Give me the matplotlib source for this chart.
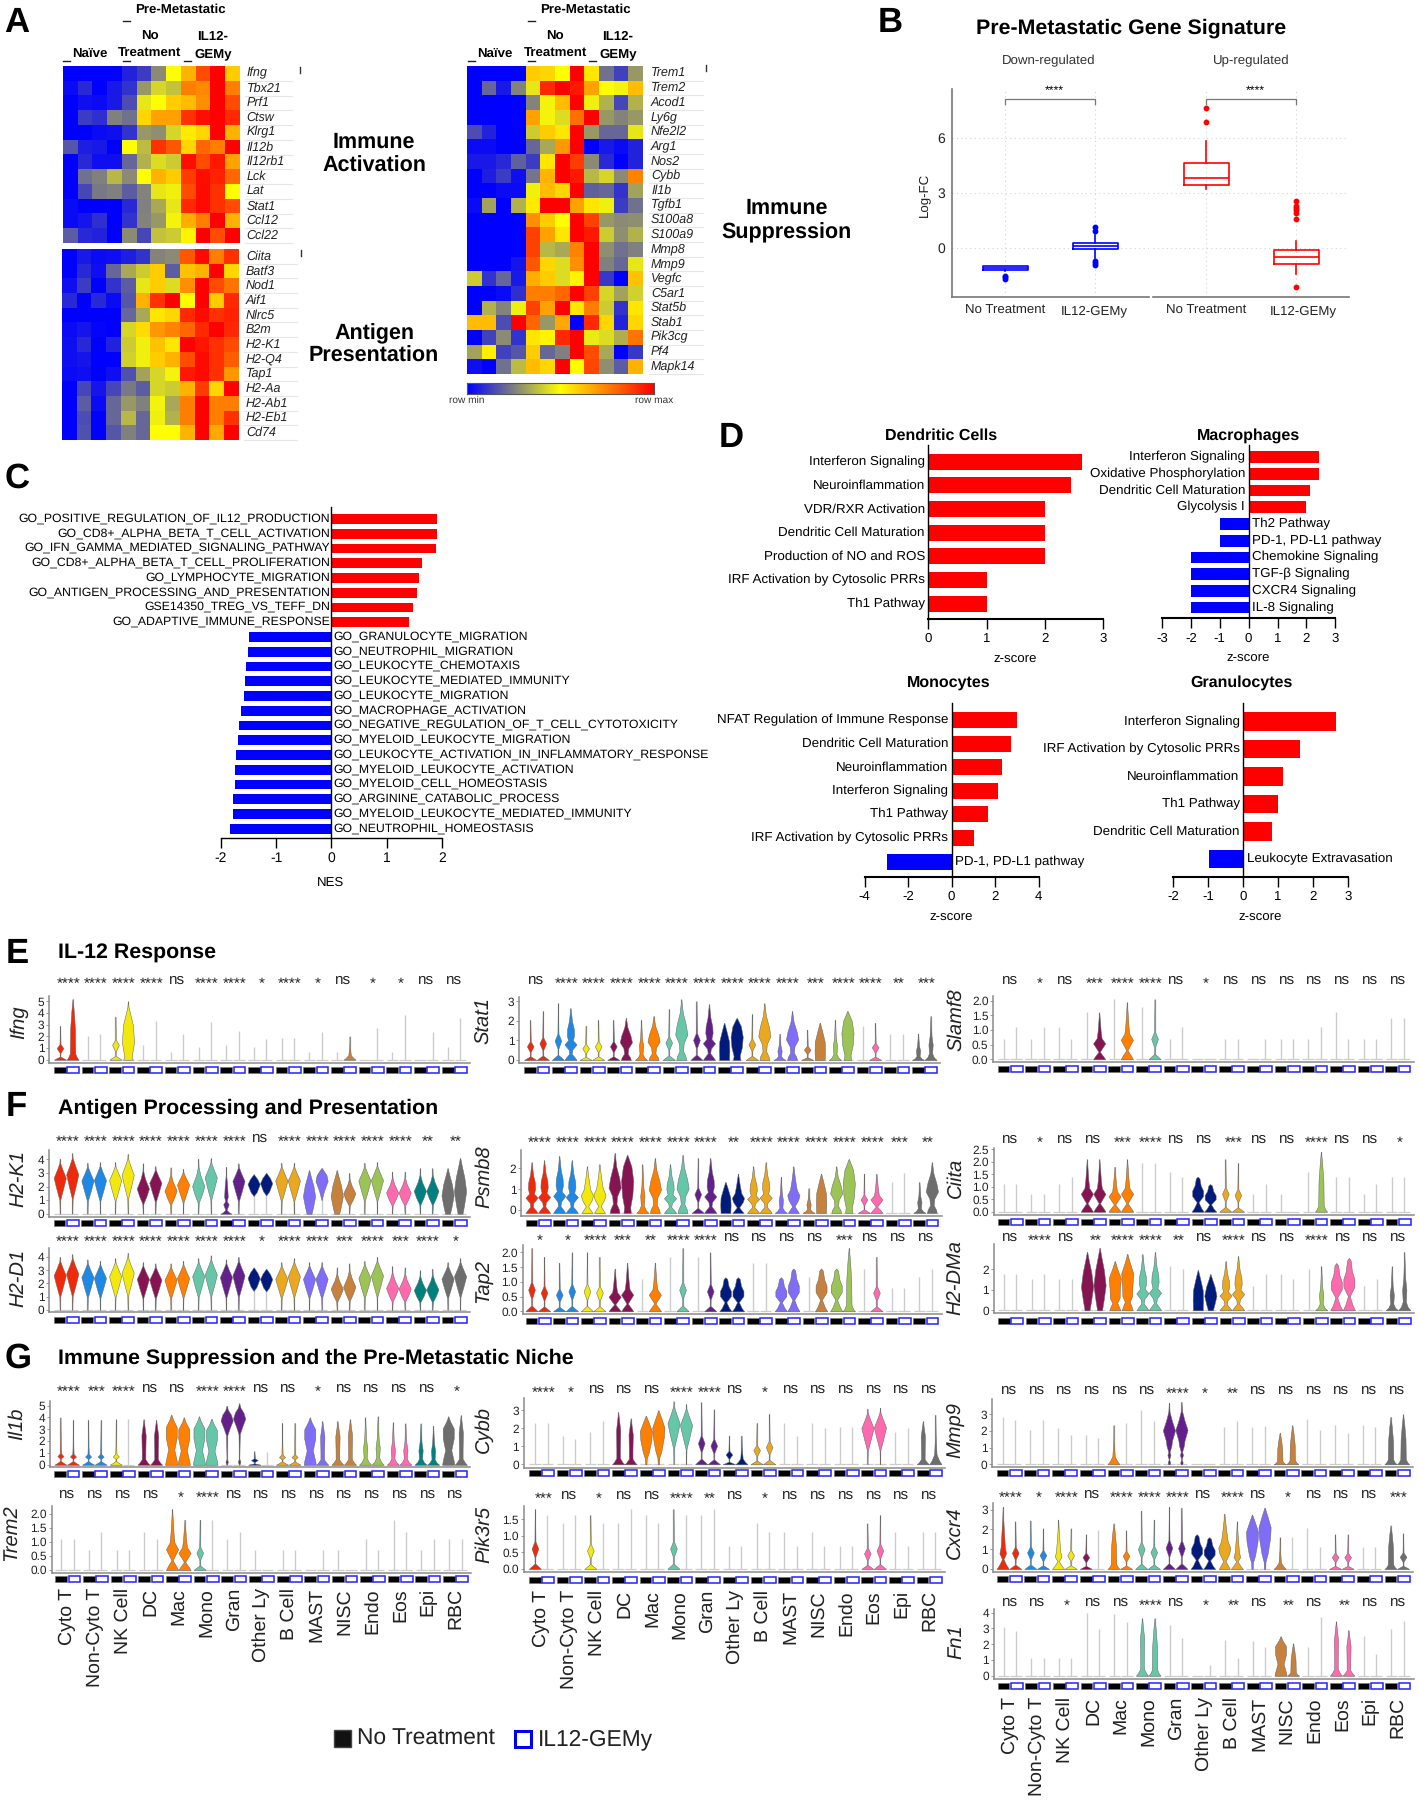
import numpy as np
import matplotlib
matplotlib.use("Agg")
import matplotlib.pyplot as plt
from matplotlib.colors import LinearSegmentedColormap
from matplotlib.patches import Rectangle

plt.rcParams['font.family'] = ['Liberation Sans', 'DejaVu Sans']
plt.rcParams['text.hinting'] = 'no_hinting'

W, H = 1419, 1800

# ---- panel A heatmaps, rows are genes, 0 = row min, 1 = row max
act_genes = ["Ifng", "Tbx21", "Prf1", "Ctsw", "Klrg1", "Il12b", "Il12rb1", "Lck", "Lat", "Stat1", "Ccl12", "Ccl22"]
act_vals = [
    [0, 0, 0, 0, .07, .12, .27, .5, .65, .85, 1, .6],
    [.02, .08, 0, .05, .1, .3, .42, .38, .75, .73, 1, .75],
    [0, .03, .02, .05, .15, .45, .5, .6, .63, .72, 1, .85],
    [0, .12, .09, .25, .22, .58, .68, .68, .9, .97, 1, .92],
    [0, 0, .02, .03, .1, .3, .28, .42, .54, .58, 1, .65],
    [.17, .06, .05, 0, .5, .37, .9, .83, .58, .8, .75, 1],
    [0, .08, .03, .03, .2, .35, .43, .4, .97, .85, .95, .68],
    [0, .22, .25, .36, .27, .5, .65, .6, .88, .97, .93, .8],
    [0, .14, .24, .25, .18, .26, .45, .47, .85, .98, .9, .5],
    [.02, 0, 0, 0, .08, .25, .33, .45, .92, .98, .9, .85],
    [.02, .04, .09, 0, .1, .26, .3, .48, .66, .75, 1, .65],
    [.18, .08, .07, 0, .27, .14, .38, .4, .52, 1, .85, 1],
]
ag_genes = ["Ciita", "Batf3", "Nod1", "Aif1", "Nlrc5", "B2m", "H2-K1", "H2-Q4", "Tap1", "H2-Aa", "H2-Ab1", "H2-Eb1", "Cd74"]
ag_vals = [
    [0, .05, .02, .03, .06, .1, .26, .27, .83, .98, .75, .9],
    [0, .08, .03, .2, .33, .4, .6, .18, .62, .65, 1, .58],
    [.03, .12, 0, .1, .18, .45, .6, .43, .72, 1, .85, .77],
    [.08, 0, .08, .02, .17, .65, .9, 1, .5, 1, .6, .92],
    [0, 0, 0, 0, .2, .33, .55, .58, .92, .98, .9, .93],
    [.02, .04, .01, 0, .42, .57, .7, .74, .8, .92, 1, .92],
    [.03, .08, 0, .07, .4, .47, .62, .55, 1, .96, .9, .85],
    [.03, .04, 0, 0, .41, .47, .6, .65, .85, .98, .9, .82],
    [.02, .03, 0, .03, .16, .32, .42, .48, .95, .98, .9, .7],
    [0, .14, .04, .14, .24, .18, .42, .4, .65, .88, .58, 1],
    [0, .18, .02, .2, .3, .25, .48, .33, .75, 1, .75, .75],
    [0, .15, 0, .2, .36, .2, .47, .35, .75, 1, .75, .9],
    [0, .16, 0, .17, .25, .2, .5, .5, .65, 1, .67, 1],
]
sup_genes = ["Trem1", "Trem2", "Acod1", "Ly6g", "Nfe2l2", "Arg1", "Nos2", "Cybb", "Il1b", "Tgfb1", "S100a8", "S100a9",
             "Mmp8", "Mmp9", "Vegfc", "C5ar1", "Stat5b", "Stab1", "Pik3cg", "Pf4", "Mapk14"]
sup_vals = [
    [0, 0, 0, 0, .6, .58, .5, 1, .55, .22, .13, .3],
    [0, .2, .05, .26, .45, .92, 1, .95, .68, .5, .48, .63],
    [0, 0, 0, 0, .26, .48, .63, 1, .47, .35, .14, .35],
    [0, 0, 0, 0, .68, .48, .43, .78, 1, .3, .26, .3],
    [.15, .07, 0, 0, .4, .6, .55, 1, .3, .2, .2, .45],
    [.02, .02, 0, 0, .2, .33, .7, 1, 0, .05, .02, .07],
    [.05, .05, .08, .19, .12, .55, 1, .88, .27, .08, 0, .07],
    [0, .06, .12, .03, .23, .65, 1, .95, .36, .42, .27, .74],
    [0, 0, .02, .02, .47, .63, .58, 1, .19, .2, .1, .32],
    [.02, .32, 0, .35, .54, 1, 1, .68, .55, .47, .12, .22],
    [0, 0, 0, 0, .72, .6, .5, 1, .87, .3, .27, .28],
    [0, 0, 0, 0, .87, .68, .55, 1, .95, .4, .28, .35],
    [0, 0, 0, 0, .87, .36, .33, .74, 1, .28, .22, .25],
    [0, 0, 0, .04, .83, .58, .43, .72, 1, .25, .2, .45],
    [.4, .1, .2, .05, .66, .6, .43, .52, 1, .11, 0, .62],
    [0, 0, .02, .09, .75, .75, .8, 1, .87, .42, .32, .41],
    [0, .35, .26, .47, .87, .68, 1, .55, .75, .4, .1, .55],
    [.63, .63, .15, 1, .8, .3, .67, 0, .92, .58, .07, .58],
    [0, .13, .27, .1, .55, .52, .92, 1, .46, .43, .34, .77],
    [.32, .53, .13, .17, .6, .2, .25, 1, .85, .33, 0, .11],
    [.03, 0, .22, .37, .63, .58, 1, .5, .86, .28, .18, .65],
]

# ---- panel B box stats
box_down_nt = dict(med=-1.1, q1=-1.2, q3=-1.0, whislo=-1.25, whishi=-1.0, fliers=[-1.55, -1.62, -1.7])
box_down_il = dict(med=.08, q1=-.09, q3=.27, whislo=-.57, whishi=.69, fliers=[1.15, .9, -.73, -.85, -.95])
box_up_nt = dict(med=3.78, q1=3.4, q3=4.62, whislo=3.2, whishi=5.84, fliers=[7.6, 6.86])
box_up_il = dict(med=-.49, q1=-.87, q3=-.15, whislo=-1.43, whishi=.35, fliers=[2.56, 2.25, 2.15, 2.05, 1.9, 1.57, -2.15])

# ---- panel C
nes_up_names = ["GO_POSITIVE_REGULATION_OF_IL12_PRODUCTION", "GO_CD8+_ALPHA_BETA_T_CELL_ACTIVATION",
                "GO_IFN_GAMMA_MEDIATED_SIGNALING_PATHWAY", "GO_CD8+_ALPHA_BETA_T_CELL_PROLIFERATION",
                "GO_LYMPHOCYTE_MIGRATION", "GO_ANTIGEN_PROCESSING_AND_PRESENTATION",
                "GSE14350_TREG_VS_TEFF_DN", "GO_ADAPTIVE_IMMUNE_RESPONSE"]
nes_up = [1.91, 1.90, 1.885, 1.63, 1.59, 1.545, 1.48, 1.40]
nes_down_names = ["GO_GRANULOCYTE_MIGRATION", "GO_NEUTROPHIL_MIGRATION", "GO_LEUKOCYTE_CHEMOTAXIS",
                  "GO_LEUKOCYTE_MEDIATED_IMMUNITY", "GO_LEUKOCYTE_MIGRATION", "GO_MACROPHAGE_ACTIVATION",
                  "GO_NEGATIVE_REGULATION_OF_T_CELL_CYTOTOXICITY", "GO_MYELOID_LEUKOCYTE_MIGRATION",
                  "GO_LEUKOCYTE_ACTIVATION_IN_INFLAMMATORY_RESPONSE", "GO_MYELOID_LEUKOCYTE_ACTIVATION",
                  "GO_MYELOID_CELL_HOMEOSTASIS", "GO_ARGININE_CATABOLIC_PROCESS",
                  "GO_MYELOID_LEUKOCYTE_MEDIATED_IMMUNITY", "GO_NEUTROPHIL_HOMEOSTASIS"]
nes_down = [-1.485, -1.50, -1.545, -1.57, -1.58, -1.63, -1.68, -1.685, -1.73, -1.745, -1.75, -1.775, -1.785, -1.825]

# ---- panel D
dc_names = ["Interferon Signaling", "Neuroinflammation", "VDR/RXR Activation", "Dendritic Cell Maturation",
            "Production of NO and ROS", "IRF Activation by Cytosolic PRRs", "Th1 Pathway"]
dc_z = [2.64, 2.45, 2, 2, 2, 1, 1]
mac_names = ["Interferon Signaling", "Oxidative Phosphorylation", "Dendritic Cell Maturation", "Glycolysis I",
             "Th2 Pathway", "PD-1, PD-L1 pathway", "Chemokine Signaling", "TGF-β Signaling", "CXCR4 Signaling",
             "IL-8 Signaling"]
mac_z = [2.44, 2.44, 2.11, 2.0, -1, -1, -2, -2, -2, -2]
mono_names = ["NFAT Regulation of Immune Response", "Dendritic Cell Maturation", "Neuroinflammation",
              "Interferon Signaling", "Th1 Pathway", "IRF Activation by Cytosolic PRRs", "PD-1, PD-L1 pathway"]
mono_z = [3.0, 2.72, 2.32, 2.13, 1.67, 1.01, -2.97]
gran_names = ["Interferon Signaling", "IRF Activation by Cytosolic PRRs", "Neuroinflammation", "Th1 Pathway",
              "Dendritic Cell Maturation", "Leukocyte Extravasation"]
gran_z = [2.66, 1.63, 1.13, 1.01, .82, -.99]

# ---- violins
cells = ["Cyto T", "Non-Cyto T", "NK Cell", "DC", "Mac", "Mono", "Gran", "Other Ly", "B Cell", "MAST", "NISC", "Endo",
         "Eos", "Epi", "RBC"]
cell_colors = ["#EE2A0B", "#1E88E5", "#F2E80C", "#861452", "#FF7F00", "#66C7A8", "#63208A", "#001B7C", "#E9A820",
               "#7F6CF7", "#C6813D", "#9BC356", "#FF69AE", "#00817F", "#6E6E6E"]

# violin outlines as (fraction of top, relative half width)
shapes = {
    'b': [(0, 1), (.03, .7), (.09, .05), (.2, .06), (.34, .55), (.46, .08), (.7, .05), (1, .01)],
    'z': [(0, 1), (.03, .6), (.08, .05), (.13, .05), (.18, .5), (.24, .1), (.4, .06), (1, .01)],
    'n': [(0, 1), (.04, .7), (.1, .45), (.5, .4), (.8, .2), (1, .01)],
    'u': [(0, .8), (.05, .6), (.3, 1), (.6, .8), (.9, .1), (1, .01)],
    'e': [(0, 1), (.08, .6), (.2, .2), (.4, .12), (.6, .05), (1, .01)],
    'c': [(0, 1), (.04, .7), (.12, .3), (.3, .3), (.65, .35), (.85, .15), (1, .01)],
    'W': [(0, 1), (.08, .9), (.3, .5), (.55, .9), (.75, .9), (.9, .3), (1, .01)],
    'd': [(0, .01), (.25, .06), (.45, .55), (.65, 1), (.8, .45), (.92, .06), (1, .01)],
    'm': [(0, .01), (.2, .08), (.35, .6), (.5, 1), (.7, .35), (.85, .05), (1, .01)],
    'l': [(0, .4), (.15, .65), (.4, 1), (.65, .7), (.85, .3), (1, .02)],
    'k': [(0, 1), (.05, .7), (.12, .2), (.2, .3), (.3, 1), (.38, .4), (.48, .6), (.6, .55), (.75, .25), (1, .01)],
    'o': [(0, .8), (.06, .7), (.15, .3), (.28, .4), (.42, 1), (.58, .75), (.78, .25), (1, .01)],
    'q': [(0, .8), (.25, .85), (.5, .8), (.8, .35), (1, .02)],
    'Q': [(0, .6), (.1, .5), (.3, .85), (.55, 1), (.8, .7), (.95, .2), (1, .02)],
    'j': [(0, 1), (.06, .55), (.15, .25), (.35, .35), (.55, .15), (1, .01)],
    'r': [(0, 1), (.06, .7), (.16, .1), (.34, 1), (.45, .4), (.6, .25), (1, .01)],
    'g': [(0, .9), (.03, .5), (.08, .1), (.2, .45), (.27, .12), (.36, .3), (.6, .2), (.8, .05), (1, .01)],
    'a': [(.45, .01), (.55, .5), (.75, 1), (.88, .6), (1, .02)],
    'h': [(.3, .01), (.5, .4), (.72, 1), (.85, .8), (1, .05)],
    'v': [(0, .9), (.06, .6), (.14, .2), (.28, .8), (.38, 1), (.5, .55), (.7, .3), (1, .01)],
    'x': [(0, 1), (.1, .6), (.27, .15), (.45, .9), (.6, .9), (.75, .5), (.95, .3), (1, .02)],
    'y': [(0, 1), (.08, .5), (.16, .12), (.25, .55), (.35, .35), (.6, .2), (.8, .08), (1, .01)],
    'L': [(0, .9), (.07, .7), (.15, .4), (.25, .8), (.45, .85), (.65, 1), (.85, .4), (1, .02)],
    'M': [(0, .1), (.12, .15), (.25, .5), (.5, .9), (.68, 1), (.85, .5), (1, .02)],
    'G': [(0, .04), (.05, .2), (.1, .02), (.5, .1), (.62, .5), (.75, 1), (.85, .7), (.93, .2), (1, .02)],
    'H': [(0, .12), (.03, .2), (.08, .02), (.15, .25), (.2, .1), (.3, .4), (.38, .5), (.55, 1), (.7, .5), (.85, .1), (1, .01)],
}

ifng_top = [2.9, 5.2, 2.0, 2.2, 3.7, 5, 1.3, 3.3, .7, 2.2, 1.05, 3.2, 1.3, 2.5, 1.1, 1.8, 1.9, 1.9, .7, 2.4, .7, 2.0, 0, 2.7, .7, 3.8, 0, 2.4, 1.1, 3.6]
ifng_shape = "bn ss bu ss ss ss ss ss ss ss se ss ss ss ss"
ifng_sig = "**** **** **** **** ns **** **** * **** * ns * * ns ns"

stat1_top = [2.05, 2.5, 2.9, 2.65, 1.75, 2.05, 2.05, 2.15, 2.05, 2.25, 2.6, 3.1, 3, 2.85, 1.9, 2.15, 2.35, 2.9, 1.35, 2.5, 1.55, 1.9, 2.05, 2.5, 1.75, 1.9, 1.35, 1.35, 1.35, 2.25]
stat1_shape = "bb bk bb bo jo bo bk qQ bo jo bq jQ sb ss jj"
stat1_sig = "ns **** **** **** **** **** **** **** **** **** *** **** **** ** ***"

slamf8_top = [.7, 1.1, .7, 1.1, 1.1, .7, 1.6, 1.6, 2.05, 1.95, 1.8, 2.05, .7, 1.1, 0, 0, .7, .7, 0, .7, .7, .7, .7, 1.1, 1.6, .7, .7, .7, 1.4, 1.4]
slamf8_shape = "ss ss ss sr sr sb ss ss ss ss ss ss ss ss ss"
slamf8_sig = "ns * ns *** **** **** ns * ns ns ns ns ns ns ns"

h2k1_top = [4.05, 4.45, 3.75, 3.8, 3.8, 4.4, 3.7, 3.5, 3.4, 3.3, 4.05, 4.1, 3.45, 3.7, 2.9, 3.0, 3.75, 3.75, 3.2, 3.35, 3.2, 3.0, 3.75, 3.8, 3.1, 3.1, 3.35, 3.35, 3.35, 4.1]
h2k1_shape = "dd dd dd md md md gd aa dd lh lm dd mm mm ll"
h2k1_sig = "**** **** **** **** **** **** **** ns **** **** **** **** **** ** **"

psmb8_top = [2.3, 2.4, 2.6, 2.4, 2.1, 2.2, 2.75, 2.65, 2.2, 2.5, 2.2, 2.65, 2.5, 2.5, 1.35, 1.75, 2.1, 2.3, 1.6, 2.1, 1.05, 1.75, 2.1, 2.45, 1.75, 1.75, 1.35, 1.8, 1.35, 2.3]
psmb8_shape = "kk kk vv oQ jo ko bk qv kk jv jq oQ br ss jo"
psmb8_sig = "**** **** **** **** **** **** **** ** **** **** **** **** **** *** **"

ciita_top = [1.1, 1.1, .7, .7, 1.1, 1.4, 2.1, 2.1, 1.8, 2.1, 1.95, 1.95, 1.6, 1.4, 1.4, 1.1, 2.1, 1.95, .7, 1.1, .7, 0, 1.6, 2.4, 1.4, 1.4, .7, 1.1, 1.4, 1.4]
ciita_shape = "ss ss ss rr rr ss ss xx bb ss ss sn ss ss ss"
ciita_sig = "ns * ns ns *** **** ns ns *** ns ns **** ns ns *"

h2d1_top = [4.0, 4.2, 3.8, 3.7, 3.9, 4.3, 3.6, 3.5, 3.5, 3.7, 3.9, 4.1, 3.8, 4.0, 3.2, 3.1, 3.6, 3.9, 3.6, 3.6, 3.2, 3.5, 3.7, 4.0, 3.3, 3.2, 3.0, 3.1, 3.6, 3.9]
h2d1_shape = "dd dd dd dd dd dd dd aa dd dd mm dd mm mm dd"
h2d1_sig = "**** **** **** **** **** **** **** * **** **** *** **** *** **** *"

tap2_top = [2.15, 1.85, 1.65, 2.0, 2, 1.85, 1.45, 1.65, 1.1, 1.65, 1.85, 2.15, 1.85, 2, 1.15, 1.15, 1.65, 1.65, 1.15, 1.45, 1.15, 1.45, 1.45, 2.15, 1.45, 1.85, .8, .8, 1.15, 1.45]
tap2_shape = "bb bb bb rr sr sb sb xx ss xx sx xn sb ss ss"
tap2_sig = "* * **** *** ** **** **** ns ns ns ns *** ns ns ns"

h2dma_top = [1.77, 1.77, 1.55, 1.77, 1.55, 1.55, 2.85, 3.05, 2.4, 2.75, 2.75, 2.85, 2.15, 2.0, 1.97, 1.77, 2.4, 2.65, 1.2, 1.77, 1.77, 1.55, 2.0, 2.15, 2.3, 2.55, 1.2, 1.55, 2.15, 2.85]
h2dma_shape = "ss ss ss ll LL kk ss ql kk ss ss sj xx ss jj"
h2dma_sig = "ns **** ns ** **** **** ** ns **** ns ns **** ns ns ns"

il1b_top = [4, 3.8, 3.8, 3.8, 3.85, 3.9, 3.85, 3.8, 4.25, 4, 4.1, 3.9, 5, 5.2, 1.15, 1.1, 3.55, 3.55, 4, 3.7, 3.7, 3.85, 4, 4.1, 3.6, 3.5, 3.5, 3.3, 4.1, 4.2]
il1b_shape = "zz zz zs cc WW WW GG bs zz Wc cc jj jj jj Wc"
il1b_sig = "**** *** **** ns ns **** **** ns ns * ns ns ns ns *"

cybb_top = [2.3, 2.3, 1.6, 1.4, 1.8, 2.4, 2.9, 2.55, 2.7, 3.0, 3.5, 3.35, 3.45, 3.05, 1.6, 1.6, 2.3, 2.8, 2.3, 1.6, 2.3, 2.0, 2.1, 2.1, 3.1, 3.15, 1.8, 2.0, 2.4, 2.75]
cybb_shape = "ss ss ss cc MM dd bb be bb ss ss ss dd ss ce"
cybb_sig = "**** * ns ns ns **** **** ns * ns ns ns ns ns ns"

mmp9_top = [2.85, 2.65, 2.05, 2.65, 2.15, 1.75, 1.75, 1.55, 2.35, 2.45, 3.25, 2.6, 3.7, 3.75, 0, 0, 2.25, 2.6, 2.25, 2.3, 1.9, 2.35, 2.7, 2.05, 2.35, 1.9, 2.35, 2.25, 2.85, 3.0]
mmp9_shape = "ss ss ss ss es ss HH ss ss ss nn ss ss ss nn"
mmp9_sig = "ns ns ns ns ns ns **** * ** ns ns ns ns ns ns"

trem2_top = [1.1, 1.1, .7, 1.37, .7, .7, 1.37, 1.1, 2.18, 1.8, 1.8, 1.8, 1.1, 1.37, .7, 0, .7, .7, 0, .7, .7, 0, 1.1, .7, 1.8, 1.37, .7, 1.1, 1.1, 1.1]
trem2_shape = "ss ss ss ss rr bs ss ss ss ss ss ss ss ss ss"
trem2_sig = "ns ns ns ns * **** ns ns ns ns ns ns ns ns ns"

pik3r5_top = [1.8, 1.62, 1.37, 1.62, 1.62, 1.37, 1.37, 1.8, 1.62, 1.37, 1.8, 1.62, 1.62, 1.8, .7, .7, 1.37, 1.1, 1.1, .7, 1.1, .7, .7, .7, 1.37, 1.62, 1.1, .7, 1.1, 1.1]
pik3r5_shape = "bs ss bs ss ss bs ss ss ss ss ss ss bb ss ss"
pik3r5_sig = "*** ns * ns ns **** ** ns * ns ns ns ns ns ns"

cxcr4_top = [3.15, 2.4, 2.45, 2.05, 2.5, 2.05, 1.75, 1.95, 2.3, 1.95, 2.95, 2.5, 3.15, 3.1, 1.75, 1.6, 2.8, 2.4, 2.75, 3.1, 1.6, 1.6, 2.05, 1.1, 1.75, 1.75, 1.1, 1.1, 2.2, 1.8]
cxcr4_shape = "yb bb yb bs nb bb bb xx vy MM es ss bb ss nb"
cxcr4_sig = "**** * **** ns **** **** **** ns **** ns * ns ns ns ***"

fn1_top = [3.1, 2.85, 1.1, 1.1, 1.1, 1.1, 4.0, 2.95, 3.9, 3.4, 3.65, 3.65, 3.25, 2.4, 0, .7, 2.25, 1.1, 2.2, 1.8, 2.5, 2.05, 1.8, 3.7, 3.45, 2.9, 2.5, 1.4, 2.95, 3.5]
fn1_shape = "ss ss ss ss ss cn ss ss ss ss Wn ss cc ss ss"
fn1_sig = "ns ns * ns ns **** ns * ** ns ** ns ** ns ns"

fig = plt.figure(figsize=(W / 100, H / 100), dpi=100)
fig.patch.set_facecolor('white')
ov = fig.add_axes([0, 0, 1, 1], zorder=10)
ov.set_xlim(0, W)
ov.set_ylim(H, 0)
ov.axis('off')


def txt(x, y, s, size, ha='center', va='center', **kw):
    return ov.text(x, y, s, fontsize=size, ha=ha, va=va, **kw)


def axpx(l, t, r, b, **kw):
    return fig.add_axes([l / W, 1 - b / H, (r - l) / W, (b - t) / H], **kw)


# panel letters and headings
for s, x, y in [("A", 17, 23), ("B", 890, 23), ("C", 17, 479), ("D", 731, 438), ("E", 17, 954), ("F", 16, 1107), ("G", 18, 1359)]:
    txt(x, y, s, 25, fontweight='bold')
for s, y in [("IL-12 Response", 953), ("Antigen Processing and Presentation", 1108),
             ("Immune Suppression and the Pre-Metastatic Niche", 1358.5)]:
    txt(57.5, y, s, 15.4, ha='left', fontweight='bold')

# ---- A
hm_cmap = LinearSegmentedColormap.from_list("hm", ["#0000ff", "#ffff00", "#ff0000"])


def heat(vals, genes, l, t, r, b, lab_x, line_r):
    ax = axpx(l, t, r, b)
    ax.imshow(np.array(vals), cmap=hm_cmap, vmin=0, vmax=1, aspect='auto', interpolation='nearest')
    ax.axis('off')
    rh = (b - t) / len(genes)
    for i, g in enumerate(genes):
        txt(lab_x, t + rh * (i + .5), g, 9, ha='left', style='italic', color='#222222')
        ov.plot([lab_x - 2, line_r], [t + rh * (i + 1)] * 2, color='#e6e6e6', lw=.8)


heat(act_vals, act_genes, 62.7, 66, 239, 243, 246.7, 292)
heat(ag_vals, ag_genes, 62.3, 249, 239, 440, 246, 297)
heat(sup_vals, sup_genes, 467, 66, 643, 374, 651, 703)

for dx in (0, 405):
    txt(180 + dx, 9.5, "Pre-Metastatic", 9.5, fontweight='bold')
    txt(150 + dx, 37, "No", 9.5, fontweight='bold')
    txt(150 + dx, 53.5, "Treatment", 9.5, fontweight='bold')
    txt(90 + dx, 53.5, "Naïve", 9.5, fontweight='bold')
    txt(213 + dx, 37, "IL12-", 9.5, fontweight='bold')
    txt(213 + dx, 53.5, "GEMy", 9.5, fontweight='bold')
    for x, y in [(126, 21), (66, 61), (126, 61), (187, 61)]:
        ov.plot([x - 3.5 + dx, x + 3.5 + dx], [y, y], color='#222222', lw=1)
for x, y in [(300, 70), (300.7, 253), (706, 68)]:
    ov.plot([x, x], [y - 3, y + 3], color='#333333', lw=1)
txt(374, 142.5, "Immune", 15.5, fontweight='bold')
txt(374, 166, "Activation", 15.5, fontweight='bold')
txt(374, 334, "Antigen", 15.5, fontweight='bold')
txt(374, 356.5, "Presentation", 15.5, fontweight='bold')
txt(787, 208.5, "Immune", 15.5, fontweight='bold')
txt(787, 233, "Suppression", 15.5, fontweight='bold')

cax = axpx(467, 383, 654, 394)
cax.imshow(np.linspace(0, 1, 256)[None, :], cmap=hm_cmap, aspect='auto')
cax.set_xticks([])
cax.set_yticks([])
for sp in cax.spines.values():
    sp.set_linewidth(.8)
    sp.set_color('#555555')
txt(467, 400, "row min", 7.3, color='#333333')
txt(654, 400, "row max", 7.3, color='#333333')

# ---- B
txt(1131.5, 28.5, "Pre-Metastatic Gene Signature", 15.4, fontweight='bold')
txt(1049, 60.5, "Down-regulated", 9.5, color='#333333')
txt(1251.7, 60.5, "Up-regulated", 9.5, color='#333333')
txt(924, 195, "Log-FC", 9.5, rotation=90, color='#222222')


def box_facet(l, r, x0, stats, color, stars_x, lab2_x):
    ax = axpx(l, 89, r, 296.7)
    ax.set_xlim((l - x0) / 90, (r - x0) / 90)
    ax.set_ylim((247.7 - 296.7) / 18.33, (247.7 - 89) / 18.33)
    for y in (0, 3, 6):
        ax.axhline(y, color='#d4d4d4', lw=.8, ls=(0, (1, 3)), zorder=0)
    for x in (0, 1):
        ax.axvline(x, color='#d4d4d4', lw=.8, ls=(0, (1, 3)), zorder=0)
    ax.bxp(stats, positions=[0, 1], widths=.5, showcaps=False,
           boxprops=dict(color=color, lw=1.2), medianprops=dict(color=color, lw=1.2),
           whiskerprops=dict(color=color, lw=1.2),
           flierprops=dict(marker='o', ms=3.2, mfc=color, mec=color))
    ax.plot([0, 0, 1, 1], [7.84, 8.11, 8.11, 7.84], color='#777777', lw=.9, clip_on=False)
    ax.set_xticks([0, 1], ["", ""])
    txt(x0, 310.5, "No Treatment", 9.5, color='#222222')
    txt(lab2_x, 310.5, "IL12-GEMy", 9.5, color='#222222')
    ax.tick_params(axis='x', length=0)
    ax.spines[['top', 'right']].set_visible(False)
    ax.spines['bottom'].set_color('#777777')
    ax.spines['bottom'].set_linewidth(1.2)
    txt(stars_x, 91, "****", 8.8)
    return ax


ax = box_facet(952, 1149, 1005.3, [box_down_nt, box_down_il], '#0000ff', 1054.7, 1094)
ax.set_yticks([0, 3, 6], ["0", "3", "6"], fontsize=10, color='#222222')
ax.tick_params(axis='y', length=0, pad=5)
ax.spines['left'].set_color('#777777')
ax.spines['left'].set_linewidth(1.2)
ax = box_facet(1153, 1349, 1206, [box_up_nt, box_up_il], '#ff0000', 1255, 1303)
ax.set_yticks([])
ax.spines['left'].set_visible(False)

# ---- C
ax = axpx(220.8, 506.7, 442.1, 837.7)
ax.set_xlim(-2, 2)
rows = np.arange(len(nes_up) + len(nes_down))
ax.set_ylim((837.7 - 519) / 14.75, (506.7 - 519) / 14.75)
vals = nes_up + nes_down
ax.barh(rows, vals, height=.66, color=['#ff0000' if v > 0 else '#0000ff' for v in vals])
ax.patch.set_alpha(0)
ax.spines[['top', 'right']].set_visible(False)
ax.spines['left'].set_position(('data', 0))
ax.spines['left'].set_linewidth(1)
ax.spines['bottom'].set_linewidth(1)
ax.set_yticks([])
ax.set_xticks([-2, -1, 0, 1, 2], ["-2", "-1", "0", "1", "2"], fontsize=10)
ax.tick_params(axis='x', length=7, width=1, pad=3)
for i, s in enumerate(nes_up_names + nes_down_names):
    left = vals[i] > 0
    ax.text(-.03 if left else .03, i - .05, s, fontsize=8.85, ha='right' if left else 'left', va='center', clip_on=False)
txt(331, 882.5, "NES", 9.5)


# ---- D
def zbars(names, z, l, t, r, b, xmin, xmax, first, step, hgt, ticks, title, title_x, title_y, zlab_x):
    ax = axpx(l, t, r, b)
    ax.set_xlim(xmin, xmax)
    ax.set_ylim((b - first) / step, (t - first) / step)
    ax.barh(np.arange(len(z)), z, height=hgt, color=['#ff0000' if v > 0 else '#0000ff' for v in z])
    ax.patch.set_alpha(0)
    ax.spines[['top', 'right']].set_visible(False)
    ax.spines['left'].set_position(('data', 0))
    ax.spines['left'].set_linewidth(1)
    ax.spines['bottom'].set_linewidth(1.5)
    ax.set_yticks([])
    ax.set_xticks(ticks, [str(v) for v in ticks], fontsize=9.5)
    ax.tick_params(axis='x', length=7, width=1, pad=3)
    px = (r - l) / (xmax - xmin)
    for i, s in enumerate(names):
        pos = z[i] > 0
        ax.text((-3.5 if pos else 3.5) / px, i, s, fontsize=9.65, ha='right' if pos else 'left', va='center', clip_on=False)
    txt(title_x, title_y, title, 11.5, fontweight='bold')
    ov.text(zlab_x, b + 39.5, "z-score", fontsize=9.5, ha='center', va='center')


zbars(dc_names, dc_z, 928.4, 445, 1102.7, 619, 0, 3, 461.7, 23.67, .68, [0, 1, 2, 3], "Dendritic Cells", 941, 436, 1015.6)
zbars(mac_names, mac_z, 1161.9, 445, 1335.3, 618.3, -3, 3, 457, 16.73, .7, [-3, -2, -1, 0, 1, 2, 3], "Macrophages", 1249, 436, 1248.6)
zbars(mono_names, mono_z, 864.7, 703.3, 1038.5, 876.7, -4, 4, 720, 23.6, .68, [-4, -2, 0, 2, 4], "Monocytes", 948.6, 682.5, 951)
zbars(gran_names, gran_z, 1173.4, 703.3, 1347.7, 876.7, -2, 3, 721.7, 27.5, .67, [-2, -1, 0, 1, 2, 3], "Granulocytes", 1241.7, 682.5, 1260)


# ---- E F G violins
def vln(gene, top, shape, sig, l, t, b, y0, u, cx0, ticks, ticklabs, sq, star_y, gene_x, gene_y, base=0.0, labels_y=None):
    step = 27.7
    r = cx0 + step * 14 + 16
    ax = axpx(l, t, r, b)
    ax.set_xlim((l - cx0) / step, (r - cx0) / step)
    ax.set_ylim((y0 - b) / u, (y0 - t) / u)
    ax.patch.set_alpha(0)
    codes = shape.replace(" ", "")
    for k in range(len(cells)):
        for side in (0, 1):
            x = k + (-.226 if side == 0 else .226)
            tp = top[2 * k + side]
            c = codes[2 * k + side]
            ax.plot([x - .21, x + .21], [base, base], color='#cccccc', lw=.9, solid_capstyle='butt')
            if tp > 0:
                ax.plot([x, x], [base, tp], color='#cccccc', lw=1.0, solid_capstyle='butt')
            if c != 's' and tp > 0:
                nodes = np.array(shapes[c])
                ys = base + nodes[:, 0] * (tp - base)
                ax.fill_betweenx(ys, x - nodes[:, 1] * .22, x + nodes[:, 1] * .22, facecolor=cell_colors[k],
                                 edgecolor='#666666', lw=.35, zorder=3)
        cx = cx0 + step * k
        ov.add_patch(Rectangle((cx - 12.3, sq), 11.7, 6, facecolor='black', edgecolor='#777777', lw=.5))
        ov.add_patch(Rectangle((cx + 1, sq), 11.7, 6, facecolor='white', edgecolor='#2222ff', lw=1.1))
        s = sig.split()[k]
        txt(cx + (2 if s != 'ns' else 0), star_y + (4 if s != 'ns' else 0) - 1, s, 11, color='#222222')
        if labels_y is not None:
            txt(cx, labels_y, cells[k], 14, rotation=90, va='top', color='#222222')
    ax.spines[['top', 'right']].set_visible(False)
    for sn in ('left', 'bottom'):
        ax.spines[sn].set_color('#8a8a8a')
        ax.spines[sn].set_linewidth(1.1)
    ax.set_xticks([])
    ax.set_yticks(ticks, ticklabs, fontsize=8.6, color='#222222')
    ax.tick_params(axis='y', length=2, width=.6, color='#8a8a8a', pad=1.5)
    txt(gene_x, gene_y, gene, 14.5, rotation=90, style='italic', color='#222222')


int3 = ["0", "1", "2", "3"]
vln("Ifng", ifng_top, ifng_shape, ifng_sig, 49.3, 996, 1063, 1059.7, 11.67, 66.3, range(6), list("012345"), 1067, 981, 19, 1022)
vln("Stat1", stat1_top, stat1_shape, stat1_sig, 519.3, 996.7, 1063.3, 1060, 19.6, 536.5, range(4), int3, 1066.7, 981, 484, 1021)
vln("Slamf8", slamf8_top, slamf8_shape, slamf8_sig, 993.3, 995.7, 1062.3, 1059.3, 29.3, 1009.8, [0, .5, 1, 1.5, 2], ["0.0", "0.5", "1.0", "1.5", "2.0"], 1066.3, 981, 956, 1020)
vln("H2-K1", h2k1_top, h2k1_shape, h2k1_sig, 49.3, 1150, 1216.7, 1213.7, 13.6, 66, [0, 1, 2, 3, 4], list("01234"), 1220, 1139, 18, 1178)
vln("Psmb8", psmb8_top, psmb8_shape, psmb8_sig, 521.3, 1150, 1216, 1210, 20.8, 537.8, [0, 1, 2], list("012"), 1220, 1140, 484, 1177, base=-.14)
vln("Ciita", ciita_top, ciita_shape, ciita_sig, 993.7, 1148, 1214.7, 1211.7, 25, 1010, [0, .5, 1, 1.5, 2, 2.5], ["0.0", "0.5", "1.0", "1.5", "2.0", "2.5"], 1219, 1140, 956, 1178)
vln("H2-D1", h2d1_top, h2d1_shape, h2d1_sig, 49.3, 1248, 1312, 1310, 13.3, 66, [0, 1, 2, 3, 4], list("01234"), 1316.5, 1239, 18, 1278)
vln("Tap2", tap2_top, tap2_shape, tap2_sig, 522.7, 1245, 1314.3, 1311.3, 29.5, 537.8, [0, .5, 1, 1.5, 2], ["0.0", "0.5", "1.0", "1.5", "2.0"], 1318.3, 1237.7, 484, 1281)
vln("H2-DMa", h2dma_top, h2dma_shape, h2dma_sig, 993.7, 1244, 1313, 1310.3, 20.5, 1010.2, [0, 1, 2], list("012"), 1317.7, 1238, 956, 1278)
vln("Il1b", il1b_top, il1b_shape, il1b_sig, 50, 1400.7, 1467, 1464.7, 11.8, 66.7, range(6), list("012345"), 1470.7, 1389, 17, 1424)
vln("Cybb", cybb_top, cybb_shape, cybb_sig, 523.7, 1398.3, 1467.7, 1464.3, 18, 541.3, range(4), int3, 1470, 1390, 484, 1430)
vln("Mmp9", mmp9_top, mmp9_shape, mmp9_sig, 992.3, 1399, 1467.3, 1464.3, 16.67, 1009, range(4), int3, 1470.3, 1390.7, 956, 1430)
vln("Trem2", trem2_top, trem2_shape, trem2_sig, 51.7, 1505.7, 1573, 1570, 28, 67.5, [0, .5, 1, 1.5, 2], ["0.0", "0.5", "1.0", "1.5", "2.0"], 1575.7, 1495, 12, 1533, labels_y=1588)
vln("Pik3r5", pik3r5_top, pik3r5_shape, pik3r5_sig, 523.7, 1505.7, 1572, 1569, 33.3, 541.2, [0, .5, 1, 1.5], ["0.0", "0.5", "1.0", "1.5"], 1576.7, 1496, 484, 1534, labels_y=1590)
vln("Cxcr4", cxcr4_top, cxcr4_shape, cxcr4_sig, 992.7, 1503.3, 1572.3, 1569, 19.8, 1009, range(4), int3, 1576, 1495, 956, 1533)
vln("Fn1", fn1_top, fn1_shape, fn1_sig, 993.7, 1609.3, 1678.7, 1675.7, 15.75, 1009.8, range(5), list("01234"), 1683, 1603.3, 956, 1642, labels_y=1697)

# legend
ov.add_patch(Rectangle((333.5, 1729.5), 17, 17, facecolor='#111111', edgecolor='#444444', lw=1))
txt(357, 1739, "No Treatment", 16.4, ha='left', color='#222222')
ov.add_patch(Rectangle((515, 1730.5), 16, 16, facecolor='white', edgecolor='#0000ee', lw=2.2))
txt(537.7, 1739, "IL12-GEMy", 16.4, ha='left', color='#222222')

fig.savefig("out.png", dpi=100)
